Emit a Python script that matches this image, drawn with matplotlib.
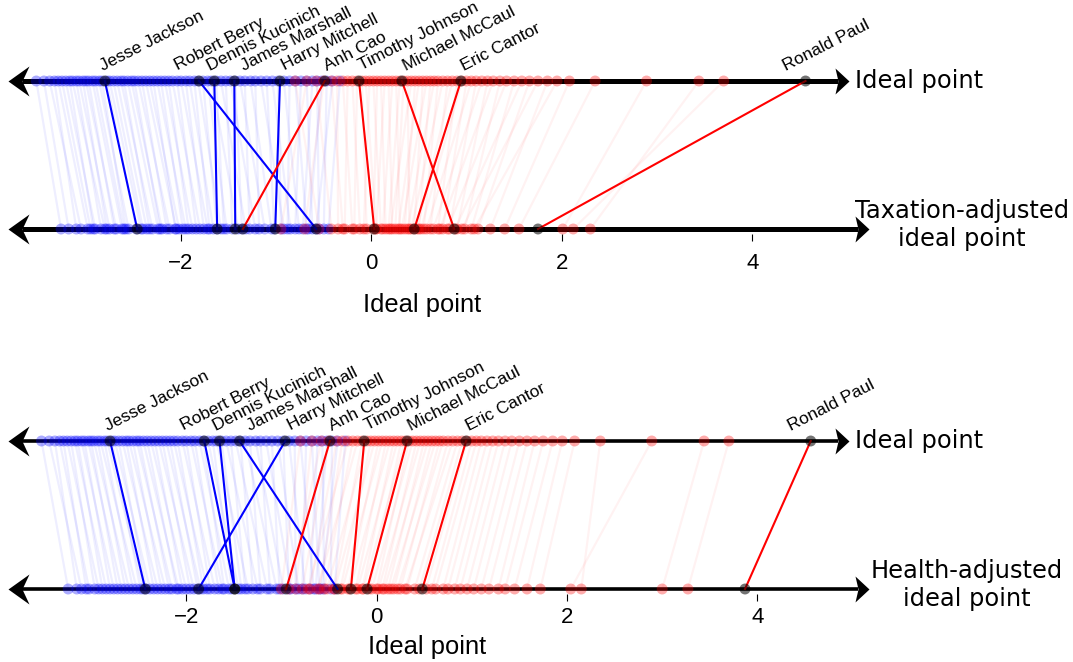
import numpy as np
import matplotlib.pyplot as plt
from matplotlib.path import Path
from matplotlib.transforms import blended_transform_factory

# ---------------------------------------------------------
# Data: ideal points and issue-adjusted ideal points
# ---------------------------------------------------------
names = ['Jesse Jackson', 'Robert Berry', 'Dennis Kucinich', 'James Marshall',
         'Harry Mitchell', 'Anh Cao', 'Timothy Johnson', 'Michael McCaul',
         'Eric Cantor', 'Ronald Paul']
named_party = ['D', 'D', 'D', 'D', 'D', 'R', 'R', 'R', 'R', 'R']
named_ideal = [-2.80, -1.81, -1.65, -1.44, -0.96, -0.49, -0.13, 0.32, 0.94, 4.56]
named_tax = [-2.46, -0.58, -1.62, -1.43, -1.01, -1.35, 0.03, 0.87, 0.45, 1.75]
named_health = [-2.43, -1.49, -1.49, -0.41, -1.87, -0.95, -0.27, -0.10, 0.48, 3.87]

dem_ideal = [-3.52, -3.44, -3.38, -3.33, -3.29, -3.25, -3.21, -3.17, -3.14, -3.10,
             -3.07, -3.03, -3.00, -2.97, -2.93, -2.90, -2.86, -2.83, -2.78, -2.75,
             -2.71, -2.67, -2.63, -2.60, -2.56, -2.52, -2.49, -2.45, -2.41, -2.37,
             -2.33, -2.29, -2.25, -2.21, -2.17, -2.13, -2.09, -2.04, -2.00, -1.95,
             -1.91, -1.86, -1.82, -1.77, -1.72, -1.68, -1.63, -1.58, -1.53, -1.48,
             -1.43, -1.38, -1.33, -1.27, -1.22, -1.16, -1.10, -1.04, -0.98, -0.92,
             -0.86, -0.80, -0.74, -0.68, -0.62, -0.57, -0.52, -0.47, -0.41, -0.33]
dem_tax = [-3.26, -3.18, -3.05, -3.10, -2.98, -2.95, -2.90, -2.92, -2.80, -2.84,
           -2.75, -2.78, -2.68, -2.70, -2.62, -2.60, -2.55, -2.58, -2.47, -2.42,
           -2.40, -2.36, -2.30, -2.33, -2.24, -2.20, -2.22, -2.12, -2.15, -2.05,
           -2.02, -2.06, -1.95, -1.98, -1.88, -1.92, -1.80, -1.84, -1.72, -1.76,
           -1.66, -1.70, -1.58, -1.62, -1.52, -1.40, -1.55, -1.32, -1.46, -1.22,
           -1.36, -1.12, -1.28, -1.05, -1.18, -0.92, -1.02, -0.85, -0.95, -0.76,
           -0.88, -0.68, -0.80, -0.62, -0.72, -0.55, -0.66, -0.50, -0.58, -0.45]
dem_health = [-3.24, -3.10, -3.15, -3.02, -3.05, -2.92, -2.96, -2.84, -2.88, -2.76,
              -2.80, -2.68, -2.72, -2.60, -2.64, -2.52, -2.56, -2.45, -2.48, -2.38,
              -2.42, -2.30, -2.34, -2.22, -2.26, -2.15, -2.18, -2.08, -2.10, -2.00,
              -2.04, -1.92, -1.96, -1.85, -1.88, -1.78, -1.82, -1.70, -1.75, -1.62,
              -1.66, -1.55, -1.60, -1.45, -1.52, -1.35, -1.42, -1.25, -1.38, -1.15,
              -1.30, -1.05, -1.22, -0.98, -1.12, -0.90, -1.02, -0.82, -0.92, -0.75,
              -0.85, -0.66, -0.78, -0.60, -0.70, -0.55, -0.64, -0.48, -0.58, -0.44]

rep_ideal = [-0.80, -0.68, -0.58, -0.50, -0.42, -0.36, -0.30, -0.25, -0.20, -0.15,
             -0.10, -0.06, -0.02, 0.02, 0.06, 0.10, 0.14, 0.18, 0.22, 0.26,
             0.30, 0.34, 0.38, 0.42, 0.46, 0.50, 0.54, 0.58, 0.62, 0.66,
             0.70, 0.75, 0.80, 0.85, 0.90, 0.95, 1.00, 1.05, 1.10, 1.16,
             1.22, 1.28, 1.35, 1.42, 1.50, 1.58, 1.66, 1.75, 1.85, 1.95,
             2.08, 2.35, 2.89, 3.44, 3.70]
rep_tax = [-0.55, -0.95, -0.42, -0.70, -0.30, -0.35, -0.20, -0.28, -0.12, -0.18,
           -0.05, 0.05, -0.08, 0.10, 0.02, 0.15, 0.05, 0.22, 0.12, 0.30,
           0.18, 0.25, 0.40, 0.20, 0.35, 0.28, 0.45, 0.32, 0.50, 0.38,
           0.55, 0.42, 0.62, 0.48, 0.70, 0.52, 0.75, 0.58, 0.82, 0.65,
           0.90, 0.72, 0.98, 0.80, 1.05, 0.88, 1.12, 0.95, 1.25, 1.08,
           1.40, 1.55, 2.01, 2.30, 2.12]
rep_health = [-1.00, -0.85, -0.92, -0.78, -0.70, -0.60, -0.72, -0.55, -0.62, -0.45,
              -0.52, -0.38, -0.44, -0.30, -0.36, -0.22, -0.28, -0.15, -0.20, -0.08,
              -0.14, 0.00, -0.05, 0.06, 0.02, 0.12, 0.08, 0.18, 0.15, 0.25,
              0.22, 0.32, 0.30, 0.40, 0.45, 0.52, 0.58, 0.62, 0.70, 0.75,
              0.82, 0.88, 0.95, 1.02, 1.10, 1.18, 1.28, 1.35, 1.45, 1.58,
              1.72, 2.15, 2.04, 3.00, 3.27]

tick_vals = [-2, 0, 2, 4]

# ---------------------------------------------------------
# Layout (pixels of the 1073x662 canvas)
# ---------------------------------------------------------
W, H = 1073, 662
PX_PER_UNIT = 95.2
label_nudge = [-2, -21, -4, 10, 5, 2, 3, 4, 3, -20]  # px, to keep names apart

fig = plt.figure(figsize=(W / 100, H / 100), dpi=100)

left_head = Path([(0, 0), (21, 15), (14, 0), (21, -15), (0, 0)],
                 [Path.MOVETO, Path.LINETO, Path.LINETO, Path.LINETO, Path.CLOSEPOLY])
right_head = Path([(0, 0), (-14, 13), (-11, 0), (-14, -13), (0, 0)],
                  [Path.MOVETO, Path.LINETO, Path.LINETO, Path.LINETO, Path.CLOSEPOLY])


def draw_panel(row_top, row_bot, y_ideal, y_adj, zero_px, adjusted, named_adj,
               adj_label, adj_label_x, arrow_lw, tick_pad, xlab_base):
    ax = fig.add_axes([0, 1 - row_bot / H, 1, (row_bot - row_top) / H])
    span = y_adj - y_ideal
    ax.set_xlim(-zero_px / PX_PER_UNIT, (W - zero_px) / PX_PER_UNIT)
    ax.set_ylim((y_adj - row_bot) / span, (y_adj - row_top) / span)
    for s in ax.spines.values():
        s.set_visible(False)
    ax.set_yticks([])

    # ticks just under the adjusted axis
    ax.spines['bottom'].set_position(('data', -5 / span))
    ax.set_xticks(tick_vals)
    ax.tick_params(axis='x', direction='out', length=7 * 0.72, width=0.8,
                   pad=tick_pad, labelsize=16, labelfontfamily='Liberation Sans')

    dem_adj, rep_adj = adjusted

    # faint connecting lines for all members
    for a, b in zip(dem_ideal, dem_adj):
        ax.plot([a, b], [1, 0], color='blue', alpha=0.065, lw=1.6, zorder=1)
    for a, b in zip(rep_ideal, rep_adj):
        ax.plot([a, b], [1, 0], color='red', alpha=0.05, lw=1.6, zorder=1)

    # the two axes drawn as double arrows
    blend = blended_transform_factory(ax.transAxes, ax.transData)
    ends = [(1, 849), (0, 869)]
    for yv, right_px in ends:
        ax.plot([(8.3 + 14) / W, (right_px - 11) / W], [yv, yv], color='black',
                lw=arrow_lw, solid_capstyle='butt', transform=blend, zorder=2)
        ax.plot([8.3 / W], [yv], marker=left_head, ms=2 * 21 * 0.72, color='black',
                mec='none', transform=blend, clip_on=False, zorder=2)
        ax.plot([right_px / W], [yv], marker=right_head, ms=2 * 14 * 0.72, color='black',
                mec='none', transform=blend, clip_on=False, zorder=2)

    # member points
    for vals, yv, col in [(dem_ideal, 1, 'blue'), (dem_adj, 0, 'blue'),
                          (rep_ideal, 1, 'red'), (rep_adj, 0, 'red')]:
        ax.scatter(vals, np.full(len(vals), yv), s=62, color=col, alpha=0.33,
                   edgecolors='none', zorder=3)

    # highlighted members
    for name, party, a, b, dx in zip(names, named_party, named_ideal, named_adj, label_nudge):
        col = 'blue' if party == 'D' else 'red'
        ax.plot([a, b], [1, 0], color=col, lw=1.5, zorder=4)
        ax.annotate(name, xy=(a, 1), xytext=(dx * 0.72, 7.5), textcoords='offset points',
                    rotation=27, rotation_mode='anchor', ha='left', va='baseline',
                    fontsize=12.5, family='Liberation Sans')
    ax.scatter(named_ideal, np.ones(len(named_ideal)), s=62, color='black', alpha=0.55,
               edgecolors='none', zorder=5)
    ax.scatter(named_adj, np.zeros(len(named_adj)), s=62, color='black', alpha=0.55,
               edgecolors='none', zorder=5)

    # axis names
    ax.text(855 / W, 1, 'Ideal point', transform=blend, ha='left', va='center',
            fontsize=17.4, family='DejaVu Sans')
    ax.text(adj_label_x / W, 4 / span, adj_label, transform=blend, ha='center',
            va='center', multialignment='center', fontsize=17.4, family='DejaVu Sans')
    ax.text(0.53, (y_adj - xlab_base) / span, 'Ideal point',
            ha='center', va='baseline', fontsize=18.4, family='Liberation Sans')
    return ax


draw_panel(0, 331, 81, 229, 371.4, (dem_tax, rep_tax), named_tax,
           'Taxation-adjusted\nideal point', 962, 3.6, 8.5, 312)
draw_panel(331, 662, 441, 589, 376.6, (dem_health, rep_health), named_health,
           'Health-adjusted\nideal point', 967, 2.6, 4.5, 654)

fig.savefig('out.png', dpi=100)
